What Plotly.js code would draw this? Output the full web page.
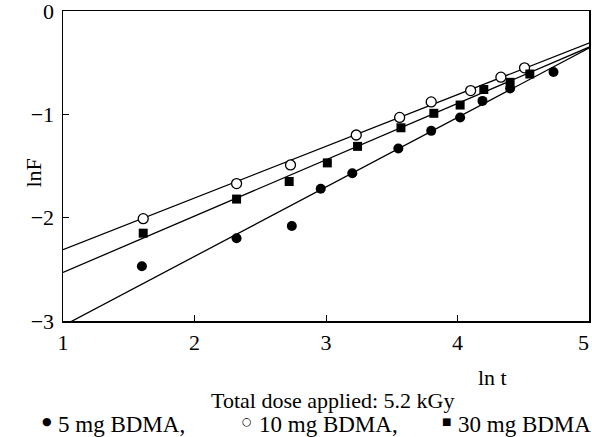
<!DOCTYPE html>
<html>
<head>
<meta charset="utf-8">
<script src="https://cdn.plot.ly/plotly-3.0.1.min.js"></script>
<style>html,body{margin:0;padding:0;background:#fff;}#chart{width:592px;height:437px;}</style>
</head>
<body>
<div id="chart"></div>
<script>
// Data (ln t vs ln F)
const x5mg  = [1.60, 2.32, 2.74, 2.96, 3.20, 3.55, 3.80, 4.02, 4.19, 4.40, 4.73];
const y5mg  = [-2.47, -2.20, -2.08, -1.72, -1.57, -1.33, -1.16, -1.03, -0.87, -0.75, -0.59];
const x10mg = [1.61, 2.32, 2.73, 3.23, 3.56, 3.80, 4.10, 4.33, 4.51];
const y10mg = [-2.01, -1.67, -1.49, -1.20, -1.03, -0.88, -0.77, -0.64, -0.55];
const x30mg = [1.61, 2.32, 2.72, 3.01, 3.24, 3.57, 3.82, 4.02, 4.20, 4.40, 4.55];
const y30mg = [-2.15, -1.82, -1.65, -1.47, -1.31, -1.13, -0.99, -0.91, -0.76, -0.69, -0.61];
// Fitted straight lines: lnF = intercept + slope * ln t  (order: 5 mg, 10 mg, 30 mg)
const fitIntercept = [-3.719, -2.81, -3.075];
const fitSlope     = [0.672, 0.50, 0.545];
const fitRange     = [1, 5];
const xTicks = [1, 2, 3, 4, 5];
const xTickText = ['1', '2', '3', '4', '5\u2002'];
const yTicks = [0, -1, -2, -3];
const yTickText = ['0', '\u22121', '\u22122', '\u22123'];
const legendSymbols = ['\u25CF', '\u25CB', '\u25A0'];
const legendLabels = ['5 mg BDMA,', '10 mg BDMA,', '30 mg BDMA'];

const FONT = 'Liberation Serif, Times New Roman, serif';
const FS = 22;
function fitLine(i) {
  return {
    x: fitRange,
    y: fitRange.map(v => fitIntercept[i] + fitSlope[i] * v),
    mode: 'lines', type: 'scatter', showlegend: false, hoverinfo: 'skip',
    line: {color: '#000', width: 1.3}
  };
}
const traces = [
  fitLine(0), fitLine(1), fitLine(2),
  {x: x5mg, y: y5mg, mode: 'markers', type: 'scatter', showlegend: false,
   marker: {symbol: 'circle', size: 10, color: '#000'}},
  {x: x10mg, y: y10mg, mode: 'markers', type: 'scatter', showlegend: false,
   marker: {symbol: 'circle', size: 10, color: '#fff', line: {color: '#000', width: 1.3}}},
  {x: x30mg, y: y30mg, mode: 'markers', type: 'scatter', showlegend: false,
   marker: {symbol: 'square', size: 9, color: '#000'}}
];

const W = 526, H = 310, L = 63, T = 11;
function px2paper(px, py) { return [(px - L) / W, (T + H - py) / H]; }

const annotations = [];
let p = px2paper(18, 173);
annotations.push({text: 'lnF', x: p[0], y: p[1], xref: 'paper', yref: 'paper', showarrow: false,
  textangle: -90, font: {family: FONT, size: FS, color: '#000'}});
p = px2paper(492, 377);
annotations.push({text: 'ln t', x: p[0], y: p[1], xref: 'paper', yref: 'paper', showarrow: false,
  xanchor: 'center', yanchor: 'middle', font: {family: FONT, size: FS, color: '#000'}});
p = px2paper(332, 400);
annotations.push({text: 'Total dose applied: 5.2 kGy', x: p[0], y: p[1], xref: 'paper', yref: 'paper', showarrow: false,
  xanchor: 'center', yanchor: 'middle', font: {family: FONT, size: FS, color: '#000'}});
const symX = [47, 247, 446];
const symSize = [11, 11, 10];
const textX = [56, 257, 456];
const LFS = 23;
legendLabels.forEach((t, i) => {
  const s = px2paper(symX[i], 422);
  annotations.push({text: legendSymbols[i], x: s[0], y: s[1], xref: 'paper', yref: 'paper', showarrow: false,
    xanchor: 'center', yanchor: 'middle', font: {family: 'DejaVu Sans', size: symSize[i], color: '#000'}});
  const q = px2paper(textX[i], 424);
  annotations.push({text: t, x: q[0], y: q[1], xref: 'paper', yref: 'paper', showarrow: false,
    xanchor: 'left', yanchor: 'middle', font: {family: FONT, size: LFS, color: '#000'}});
});

const layout = {
  width: 592, height: 437,
  margin: {l: L, r: 592 - L - W, t: T, b: 437 - T - H, pad: 0},
  paper_bgcolor: '#fff', plot_bgcolor: '#fff',
  font: {family: FONT, size: FS, color: '#000'},
  xaxis: {range: [1, 5], tickvals: xTicks, ticktext: xTickText, ticks: 'inside', ticklen: 6, tickwidth: 1,
    tickcolor: '#000', showline: true, linecolor: '#000', linewidth: 1.5, mirror: true,
    showgrid: false, zeroline: false, tickfont: {family: FONT, size: FS}, ticklabelstandoff: 1,
    ticklabeloverflow: 'allow'},
  yaxis: {range: [-3, 0], tickvals: yTicks, ticktext: yTickText, ticks: 'inside', ticklen: 6, tickwidth: 1,
    tickcolor: '#000', showline: true, linecolor: '#000', linewidth: 1.5, mirror: true,
    showgrid: false, zeroline: false, tickfont: {family: FONT, size: FS}, ticklabelstandoff: 3,
    ticklabeloverflow: 'allow'},
  annotations: annotations,
  showlegend: false
};
Plotly.newPlot('chart', traces, layout, {staticPlot: true, displayModeBar: false});
</script>
</body>
</html>
